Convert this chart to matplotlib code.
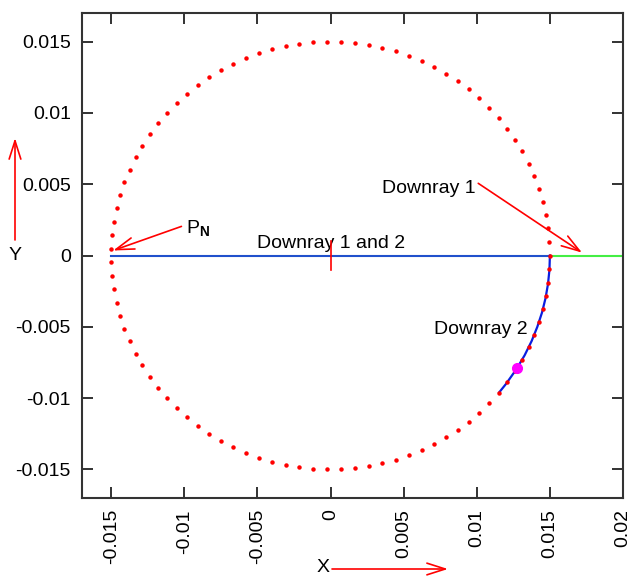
import numpy as np
import matplotlib
matplotlib.use('Agg')
import matplotlib.pyplot as plt

plt.rcParams['font.family'] = ['Liberation Sans', 'DejaVu Sans']
plt.rcParams['mathtext.fontset'] = 'custom'
plt.rcParams['mathtext.rm'] = 'Liberation Sans'
plt.rcParams['mathtext.bf'] = 'Liberation Sans:bold'

# circle of candidate points P_N
circle_radius = 0.015
circle_count = 99

# downray 1 and 2 (shared part), downray 1 continuation
shared_x = [-0.015, 0.015]
shared_y = [0.0, 0.0]
ray1_x = [0.015, 0.02]
ray1_y = [0.0, 0.0]

# downray 2 follows the circle downwards
ray2_x = [0.0150, 0.01497, 0.01487, 0.0147, 0.01446, 0.01414, 0.01375,
          0.01327, 0.01269, 0.0120, 0.01153]
ray2_y = [0.0, -0.001, -0.002, -0.003, -0.004, -0.005, -0.006,
          -0.007, -0.008, -0.009, -0.0096]

# highlighted point on downray 2
hit_x = [0.01276]
hit_y = [-0.00787]

x_ticks = [-0.015, -0.01, -0.005, 0, 0.005, 0.01, 0.015, 0.02]
x_labels = ['-0.015', '-0.01', '-0.005', '0', '0.005', '0.01', '0.015', '0.02']
y_ticks = [-0.015, -0.01, -0.005, 0, 0.005, 0.01, 0.015]
y_labels = ['-0.015', '-0.01', '-0.005', '0', '0.005', '0.01', '0.015']

fig = plt.figure(figsize=(6.33, 5.76), dpi=100)
ax = fig.add_axes([82 / 633, 1 - 498 / 576, 541 / 633, 485 / 576])

theta = np.linspace(0, 2 * np.pi, circle_count, endpoint=False)
ax.plot(circle_radius * np.cos(theta), circle_radius * np.sin(theta),
        linestyle='none', marker='o', markersize=2.2, color='red', zorder=3)

ax.plot(shared_x, shared_y, color='#2050cc', lw=1.5, zorder=2)
ax.plot(ray1_x, ray1_y, color='#44ee44', lw=1.5, zorder=2)
ax.plot(ray2_x, ray2_y, color='#0a1ee0', lw=1.6, zorder=2)
ax.plot(hit_x, hit_y, linestyle='none', marker='o', markersize=7, color='#ff00ff', zorder=4)

# small marker at the origin
ax.plot([0, 0], [-0.001, 0.001], color='red', lw=1.2, zorder=4)

fs = 14
ax.text(0.0, 0.0005, 'Downray 1 and 2', ha='center', va='baseline', fontsize=fs)
ax.text(0.0099, 0.0044, 'Downray 1', ha='right', va='baseline', fontsize=fs)
ax.text(0.0135, -0.0055, 'Downray 2', ha='right', va='baseline', fontsize=fs)
ax.text(-0.0099, 0.00155, r'P$_{\mathbf{N}}$', ha='left', va='baseline', fontsize=fs)

arrow = dict(arrowstyle='->,head_length=1.1,head_width=0.35', color='red', lw=1.2,
             shrinkA=0, shrinkB=0, mutation_scale=12)
ax.annotate('', xy=(0.0172, 0.0002), xytext=(0.0101, 0.00506), arrowprops=arrow)
ax.annotate('', xy=(-0.01487, 0.00035), xytext=(-0.0102, 0.00204), arrowprops=arrow)

ax.set_xlim(-0.017, 0.02)
ax.set_ylim(-0.017, 0.017)
ax.set_xticks(x_ticks)
ax.set_xticklabels(x_labels, rotation=90)
ax.set_yticks(y_ticks)
ax.set_yticklabels(y_labels)
ax.tick_params(direction='in', length=8, width=1.3, top=True, right=True,
               labelsize=fs, pad=8, colors='#222222', labelcolor='black')
for s in ax.spines.values():
    s.set_linewidth(1.5)
    s.set_color('#333333')

# axis direction arrows outside the frame
fig.text(15 / 633, 1 - 256 / 576, 'Y', ha='center', va='center', fontsize=fs)
fig.text(323 / 633, 1 - 568 / 576, 'X', ha='center', va='center', fontsize=fs)
ax.annotate('', xy=(15 / 633, 1 - 138 / 576), xytext=(15 / 633, 1 - 240 / 576),
            xycoords='figure fraction', arrowprops=arrow)
ax.annotate('', xy=(448 / 633, 1 - 569 / 576), xytext=(332 / 633, 1 - 569 / 576),
            xycoords='figure fraction', arrowprops=arrow)

fig.savefig('out.png', dpi=100)
